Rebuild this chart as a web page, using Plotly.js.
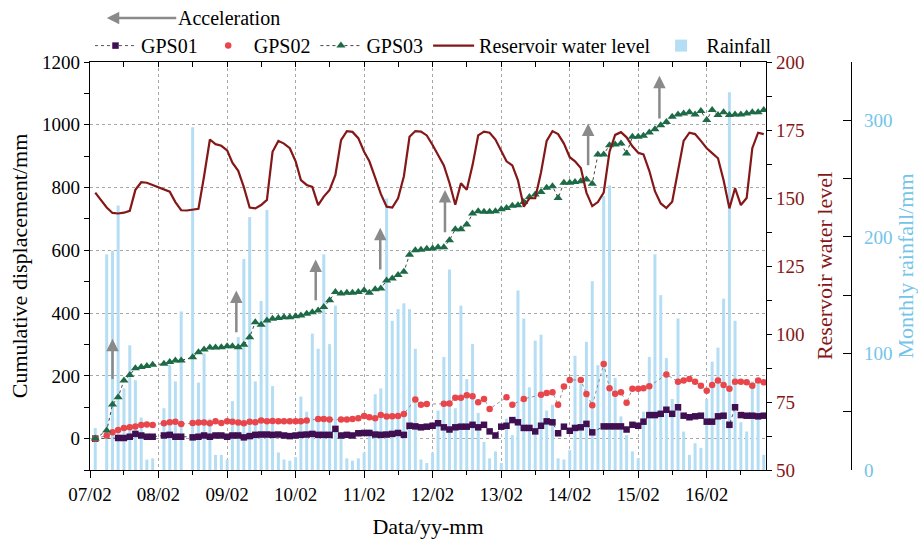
<!DOCTYPE html>
<html>
<head>
<meta charset="utf-8">
<script src="https://cdn.plot.ly/plotly-3.0.1.min.js"></script>
<style>html,body{margin:0;padding:0;background:#fff;}#chart{width:918px;height:540px;}</style>
</head>
<body>
<div id="chart"></div>
<script>
// Monthly series, first month = 2007-03, last = 2016-12 (118 months)
const firstYear = 2007, firstMonth = 3, monthCount = 118;
const months = [];
for (let i = 0; i < monthCount; i++) {
  const mm = firstMonth - 1 + i;
  const y = firstYear + Math.floor(mm / 12);
  const m = (mm % 12) + 1;
  months.push(y + '-' + (m < 10 ? '0' + m : m) + '-01');
}

const reservoirLevel = [152,149,146.5,144.5,144.3,144.6,145.3,153,155.8,155.6,154.8,154,153.2,152.3,148.5,145.5,145.4,145.6,146,158,
171.5,169.8,169.2,167.5,163,160,154,146.5,146.2,147.4,149.3,167,171,170,168.3,163.5,156.6,154.8,154.1,147.4,
150.5,153,158.5,171.3,174.6,174.3,172,167,163.5,157.5,151.5,146.8,146.5,149.9,158,172.5,174.6,174.4,173,169.5,
166,162,155.5,147.5,155.4,153,162.1,173,174.4,174,171.5,167.5,163.5,162,156.5,146.8,149.9,149.9,159.5,171,
174.6,173.5,170,165,163.5,161,152,147,148.5,152,167,173.2,174.2,172.3,169,166.6,166,160,152.5,148,
146.3,148.6,160,171,174,173.5,171,168.3,166.5,164.6,156.5,146.2,153.6,147.4,150,168.3,174,173.5];

const gps03 = [0,null,25.5,108.5,132,185,203,224,228,231,235,null,238.5,244,249,249,null,259.5,275.5,284,
290.5,290.5,291.5,294.5,294.5,291.5,299,323,371,363,376.6,382,384,387,387,389.5,392.6,397.9,403,408.5,
419,440.6,467,462,465,465,467,472.6,465,475.8,478,504,510,521,531.6,586,600,602,605,606,
609.5,609.5,632,667,667,682,717,724.5,722.5,722.5,724.5,731,735,741.7,743.8,754,770,777.7,786,799,
804.5,767,815,815,818,820,825.5,812,905,905.5,935,937,940,908.6,961.7,961.7,965,975.6,986,998.6,
1009,1025.6,1033,1036,1039.5,1033,1043.7,1015,1047,1031,1039.5,1031,1033,1033,1036,1039.5,1039.5,1047];

const gps02 = [0,null,9.6,20,27.7,34,36,38.3,43.6,44.7,43.6,null,49,52,54,46.8,null,50,51,51,
49,55,50,55,54,51,49,54,52,57.5,55,56,55,55,55,55,55,57.5,null,62.8,
62.8,60.6,null,60.6,60.6,62.8,64.9,72.3,68,64.9,75.5,70.2,71.3,72.3,78.7,null,125,108,110,null,
null,110.7,112,130,130,138,135,116,126.6,94.7,null,null,132,108,null,126.6,null,null,140,145,
148,108,166,187,null,187,142,106,null,238,160.6,142.6,148,114,158.5,158.5,160.6,167,null,null,
204,null,181.5,185,190,181.5,168.7,152.8,170.8,185,170.8,158.5,181.5,181.5,179.4,168.7,185,179.4];

const gps01 = [0,null,null,null,2,2,6,15,10,6,6,null,10,12,6,6,null,4,6,10,
6,10,10,6,10,10,4,8,12,13,13,12,13,10,8,10,12,13,15,12,
12,12,31,10,12,10,17,18,18,13,12,13,15,18,12,41,39,36,38,41,
49,36,29,36,38,38,44,36,44,23,10,38,41,59,52,34,34,23,41,55,
52,17,38,25,34,36,47,20,null,39,39,39,39,29,44,41,54,75,75,79,
92,79,100,73,68,71,73,54,54,71,73,44,100,75,73,73,71,73];

const rainfall = [36,null,185,188,227,70,107,77,45,9,10,null,53,90,76,136,null,294,75,100,
44,13,13,9,59,114,181,217,76,145,223,72,15,9,8,11,63,50,117,104,
185,108,141,30,10,8,10,15,35,65,70,233,128,138,143,138,104,9,6,15,
51,97,172,53,141,78,108,49,24,10,16,6,44,30,154,130,71,111,116,51,
56,10,9,17,98,74,110,162,90,235,244,79,46,30,16,10,50,97,185,150,
96,61,130,33,13,23,19,61,93,105,147,324,128,41,33,76,74,13];

// Acceleration arrows (date, tail value, head value on displacement axis)
const arrowDates = ['2007-06-01','2009-03-22','2010-05-19','2011-04-28','2012-04-07','2014-05-10','2015-05-25'];
const arrowTail = [185,334,436,534,653,866,1015];
const arrowHead = [318,472,571,672,792,1004,1156];

const xRange = ['2007-02-01','2016-12-13'];
const FONT = '"Liberation Serif", "Times New Roman", Times, serif';
const cRes = '#841717', cRain = '#73c4e8', cBar = '#b5def4';
const gridDash = '3px,3px', gridColor = '#a8a8a8';

const traces = [
  {type:'bar', x: months, y: rainfall, xaxis:'x', yaxis:'y', name:'Rainfall',
   marker:{color:cBar, line:{width:0}}, width: 16*86400000, legendrank: 5},
  {type:'scatter', mode:'lines+markers', x: months, y: gps01, xaxis:'x', yaxis:'y2', name:'GPS01',
   connectgaps:true, line:{color:'#555', width:1, dash:'dot'},
   marker:{symbol:'square', size:6.5, color:'#3f0f52'}, legendrank: 1},
  {type:'scatter', mode:'lines', x: months, y: gps02, xaxis:'x', yaxis:'y2', name:'GPS02 line',
   connectgaps:true, line:{color:'#777', width:0.8, dash:'dot'}, showlegend:false, hoverinfo:'skip'},
  {type:'scatter', mode:'markers', x: months, y: gps02, xaxis:'x', yaxis:'y2', name:'GPS02',
   marker:{symbol:'circle', size:6.5, color:'#e8464b'}, legendrank: 2},
  {type:'scatter', mode:'lines+markers', x: months, y: gps03, xaxis:'x', yaxis:'y2', name:'GPS03',
   connectgaps:true, line:{color:'#444', width:1, dash:'dot'},
   marker:{symbol:'triangle-up', size:8, color:'#1d6a47'}, legendrank: 3},
  {type:'scatter', mode:'lines', x: months, y: reservoirLevel, xaxis:'x2', yaxis:'y3', name:'Reservoir water level',
   line:{color:cRes, width:2.2}, legendrank: 4}
];

const annotations = arrowDates.map((d, i) => ({
  x: d, y: arrowHead[i], xref:'x', yref:'y2',
  ax: d, ay: arrowTail[i], axref:'x', ayref:'y2',
  text:'', showarrow:true, arrowhead:2, arrowsize:1, arrowwidth:2.5, arrowcolor:'#8a8a8a'
}));
annotations.push({
  x: 0.022, y: 1.108, xref:'paper', yref:'paper', text:'Acceleration',
  showarrow:true, ax: 122, ay: 0, arrowhead:2, arrowsize:1, arrowwidth:2.5, arrowcolor:'#8a8a8a',
  font:{family:FONT, size:20, color:'#000'}
});

const layout = {
  width: 918, height: 540,
  margin: {l: 90, r: 67, t: 62, b: 70},
  paper_bgcolor:'#fff', plot_bgcolor:'#fff',
  font: {family: FONT, size: 19, color:'#000'},
  showlegend: true,
  legend: {orientation:'h', x: 0, xanchor:'left', y: 1.088, yanchor:'top',
           font:{family:FONT, size:20}, bgcolor:'rgba(0,0,0,0)', itemwidth:41, traceorder:'normal'},
  barmode:'overlay',
  xaxis: {type:'date', domain:[0, 0.8883], range: xRange, tick0:'2007-02-01', dtick:'M12', tickformat:'%y/%m',
          ticks:'outside', ticklen:7, tickcolor:'#000', showline:true, linecolor:'#000', linewidth:1.2,
          showgrid:true, gridcolor:gridColor, griddash:gridDash, gridwidth:1, zeroline:false,
          minor:{dtick:'M6', tick0:'2007-02-01', ticks:'outside', ticklen:4, tickcolor:'#000', showgrid:false},
          tickfont:{size:19},
          title:{text:'Data/yy-mm', font:{size:22}, standoff: 14}},
  xaxis2: {type:'date', overlaying:'x', side:'top', range: xRange, tick0:'2007-02-01', dtick:'M12',
           ticks:'inside', ticklen:5, tickcolor:'#000', showticklabels:false, showline:true, linecolor:'#000', linewidth:1.2,
           showgrid:false, zeroline:false,
           minor:{dtick:'M6', tick0:'2007-02-01', ticks:'inside', ticklen:5, tickcolor:'#000', showgrid:false}},
  yaxis: {range:[0,350], anchor:'free', position:1, side:'right', tick0:0, dtick:100,
          ticks:'inside', ticklen:8, tickcolor:'#000', showline:true, linecolor:'#000', linewidth:1.2,
          showgrid:false, zeroline:false, ticklabelstandoff: 8,
          minor:{dtick:50, ticks:'inside', ticklen:8, tickcolor:'#000', showgrid:false},
          tickfont:{size:19, color:cRain},
          title:{text:'Monthly rainfall/mm', font:{size:22, color:cRain}, standoff: 8}},
  yaxis2: {range:[-100,1200], overlaying:'y', side:'left', anchor:'x', tick0:0, dtick:200,
           ticks:'outside', ticklen:5, tickcolor:'#000', showline:true, linecolor:'#000', linewidth:1.2,
           showgrid:true, gridcolor:gridColor, griddash:gridDash, gridwidth:1, zeroline:false,
           minor:{dtick:100, ticks:'outside', ticklen:5, tickcolor:'#000', showgrid:false},
           tickfont:{size:19},
           title:{text:'Cumulative displacement/mm', font:{size:22}, standoff: 8}},
  yaxis3: {range:[50,200], overlaying:'y', side:'right', anchor:'x', tick0:50, dtick:25,
           ticks:'outside', ticklen:5, tickcolor:'#000', showline:true, linecolor:'#000', linewidth:1.2,
           showgrid:false, zeroline:false,
           minor:{dtick:12.5, ticks:'outside', ticklen:5, tickcolor:'#000', showgrid:false},
           tickfont:{size:19, color:cRes},
           title:{text:'Reservoir water level', font:{size:22, color:cRes}, standoff: 13}},
  annotations: annotations
};

Plotly.newPlot('chart', traces, layout, {displayModeBar:false, staticPlot:true});
</script>
</body>
</html>
